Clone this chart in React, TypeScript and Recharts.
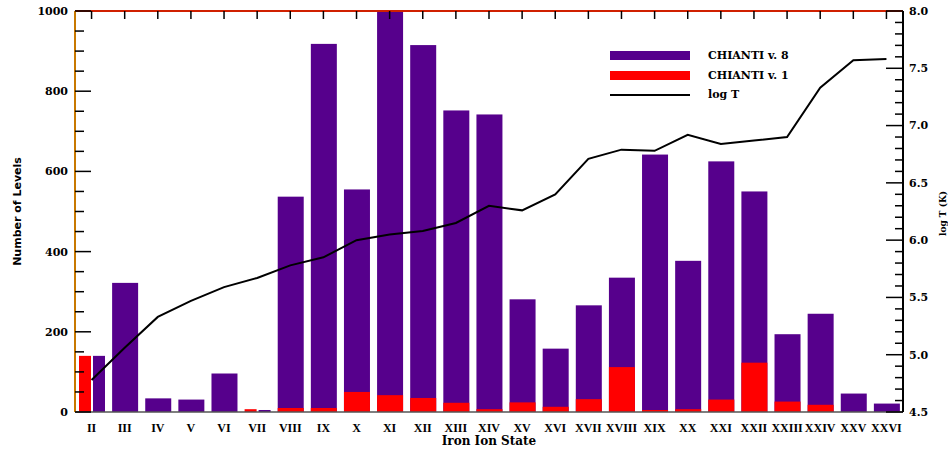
import React from 'react';
import { ComposedChart, Bar, Line, XAxis, YAxis } from 'recharts';

const ions = ['II', 'III', 'IV', 'V', 'VI', 'VII', 'VIII', 'IX', 'X', 'XI', 'XII', 'XIII', 'XIV', 'XV', 'XVI', 'XVII', 'XVIII', 'XIX', 'XX', 'XXI', 'XXII', 'XXIII', 'XXIV', 'XXV', 'XXVI'];
const levelsV8 = [140, 322, 34, 31, 96, 5, 537, 918, 555, 1000, 915, 752, 742, 281, 158, 266, 335, 642, 377, 625, 550, 194, 245, 46, 21];
const levelsV1 = [140, 0, 0, 0, 0, 7, 10, 10, 50, 42, 35, 23, 7, 24, 13, 32, 112, 5, 7, 31, 123, 26, 18, 0, 0];
const logT = [4.78, 5.06, 5.33, 5.47, 5.59, 5.67, 5.78, 5.85, 6.0, 6.05, 6.08, 6.15, 6.3, 6.26, 6.4, 6.71, 6.79, 6.78, 6.92, 6.84, 6.87, 6.9, 7.33, 7.57, 7.58];

const LEVEL_DOMAIN = [0, 1000];
const TEMP_DOMAIN = [4.5, 8.0];
const levelMajor = [0, 200, 400, 600, 800, 1000];
const levelMinor: number[] = [];
for (let v = 0; v <= 1000; v += 50) levelMinor.push(v);
const tempMajor = [4.5, 5.0, 5.5, 6.0, 6.5, 7.0, 7.5, 8.0];
const tempMinor: number[] = [];
for (let i = 45; i <= 80; i++) tempMinor.push(i / 10);

const W = 948;
const H = 453;
const MARGIN = { top: 10, right: 5, bottom: 11, left: 35 };
const Y_AXIS_W = 40;
const X_AXIS_H = 30;
const TOP_AXIS_H = 1;
// plot box implied by the margins and axis sizes above
const PLOT = {
  left: MARGIN.left + Y_AXIS_W,
  right: W - MARGIN.right - Y_AXIS_W,
  top: MARGIN.top + TOP_AXIS_H,
  bottom: H - MARGIN.bottom - X_AXIS_H,
};

const PURPLE = '#56008c';
const RED = '#ff0000';
const FONT = '"DejaVu Serif", serif';
const tickFont = { fontFamily: FONT, fontWeight: 'bold', fontSize: 11, fill: '#000' };

const data = ions.map((ion, i) => ({ ion, v8: levelsV8[i], v1: levelsV1[i], logT: logT[i] }));

// when the old count is not below the new one the two bars sit side by side
const isSplit = (p: any) => p && p.v1 > 0 && p.v1 >= p.v8;

const PurpleShape = (p: any) => {
  const split = isSplit(p.payload);
  const w = split ? p.width / 2 - 1 : p.width;
  const x = split ? p.x + p.width / 2 + 1 : p.x;
  return <rect x={x} y={p.y} width={Math.max(w, 0)} height={Math.max(p.height, 0)} fill={PURPLE} />;
};

const RedShape = (p: any) => {
  const split = isSplit(p.payload);
  const w = split ? p.width / 2 - 1 : p.width;
  return <rect x={p.x} y={p.y} width={Math.max(w, 0)} height={Math.max(p.height, 0)} fill={RED} />;
};

const valueToY = (v: number, dom: number[]) =>
  PLOT.bottom - ((v - dom[0]) / (dom[1] - dom[0])) * (PLOT.bottom - PLOT.top);

// inward tick marks and axis titles, drawn on an overlay above the chart
const AxisMarks = () => {
  const step = (PLOT.right - PLOT.left) / ions.length;
  const midY = (PLOT.top + PLOT.bottom) / 2;
  return (
    <svg width={W} height={H} style={{ position: 'absolute', left: 0, top: 0, pointerEvents: 'none' }}>
      {levelMinor.map((v) => {
        const y = valueToY(v, LEVEL_DOMAIN);
        return <line key={'l' + v} x1={PLOT.left} x2={PLOT.left + (v % 200 === 0 ? 16 : 9)} y1={y} y2={y} stroke="#000" strokeWidth={1.5} />;
      })}
      {tempMinor.map((v) => {
        const y = valueToY(v, TEMP_DOMAIN);
        const len = Math.round(v * 10) % 5 === 0 ? 17 : 8;
        return <line key={'r' + v} x1={PLOT.right} x2={PLOT.right - len} y1={y} y2={y} stroke="#000" strokeWidth={1.5} />;
      })}
      {ions.map((ion, i) => {
        const x = PLOT.left + step * (i + 0.5);
        return <line key={'t' + ion} x1={x} x2={x} y1={PLOT.top} y2={PLOT.top + 8} stroke="#000" strokeWidth={1.5} />;
      })}
      <text
        x={17}
        y={midY}
        transform={`rotate(-90 17 ${midY})`}
        textAnchor="middle"
        dominantBaseline="central"
        fontFamily='"DejaVu Sans", sans-serif'
        fontWeight="bold"
        fontSize={11}
        fill="#000"
      >
        Number of Levels
      </text>
      <text
        x={943}
        y={midY + 2}
        transform={`rotate(-90 943 ${midY + 2})`}
        textAnchor="middle"
        dominantBaseline="central"
        fontFamily={FONT}
        fontWeight="bold"
        fontSize={9}
        fill="#000"
      >
        log T (K)
      </text>
    </svg>
  );
};

const legendItems = [
  { label: 'CHIANTI v. 8', color: PURPLE, h: 9 },
  { label: 'CHIANTI v. 1', color: RED, h: 9 },
  { label: 'log T', color: '#000', h: 2 },
];

export default function App() {
  return (
    <div style={{ position: 'absolute', left: 0, top: 0, width: W, height: H, background: '#fff' }}>
      <ComposedChart width={W} height={H} data={data} margin={MARGIN} barSize={26} barGap={-26}>
        <XAxis
          dataKey="ion"
          interval={0}
          axisLine={{ stroke: '#555', strokeWidth: 1.5 }}
          tickLine={false}
          tickSize={0}
          tickMargin={11}
          height={X_AXIS_H}
          tick={{ fontFamily: '"Liberation Serif", serif', fontWeight: 'bold', fontSize: 12, fill: '#000' }}
          label={{ value: 'Iron Ion State', position: 'insideBottom', offset: -3, fontFamily: FONT, fontWeight: 'bold', fontSize: 12, fill: '#000' }}
        />
        <XAxis
          xAxisId="top"
          dataKey="ion"
          orientation="top"
          interval={0}
          height={TOP_AXIS_H}
          axisLine={{ stroke: '#d02000', strokeWidth: 2 }}
          tickLine={false}
          tick={false}
        />
        <YAxis
          yAxisId="left"
          domain={LEVEL_DOMAIN}
          ticks={levelMajor}
          interval={0}
          allowDataOverflow
          width={Y_AXIS_W}
          axisLine={{ stroke: '#c87800', strokeWidth: 2 }}
          tickLine={false}
          tickSize={0}
          tickMargin={7}
          tick={tickFont}
        />
        <YAxis
          yAxisId="right"
          orientation="right"
          domain={TEMP_DOMAIN}
          ticks={tempMajor}
          interval={0}
          allowDataOverflow
          width={Y_AXIS_W}
          axisLine={{ stroke: '#000', strokeWidth: 2 }}
          tickLine={false}
          tickSize={0}
          tickMargin={6}
          tick={tickFont}
          tickFormatter={(v: number) => v.toFixed(1)}
        />
        <Bar yAxisId="left" dataKey="v8" fill={PURPLE} shape={PurpleShape} isAnimationActive={false} />
        <Bar yAxisId="left" dataKey="v1" fill={RED} shape={RedShape} isAnimationActive={false} />
        <Line
          yAxisId="right"
          dataKey="logT"
          type="linear"
          stroke="#000"
          strokeWidth={2}
          dot={false}
          isAnimationActive={false}
        />
      </ComposedChart>
      <AxisMarks />
      <div style={{ position: 'absolute', left: 610, top: 46 }}>
        {legendItems.map((it) => (
          <div key={it.label} style={{ display: 'flex', alignItems: 'center', height: 19.5 }}>
            <div style={{ width: 80, height: it.h, background: it.color }} />
            <span style={{ marginLeft: 18, fontFamily: FONT, fontWeight: 'bold', fontSize: 11, color: '#000' }}>{it.label}</span>
          </div>
        ))}
      </div>
    </div>
  );
}
